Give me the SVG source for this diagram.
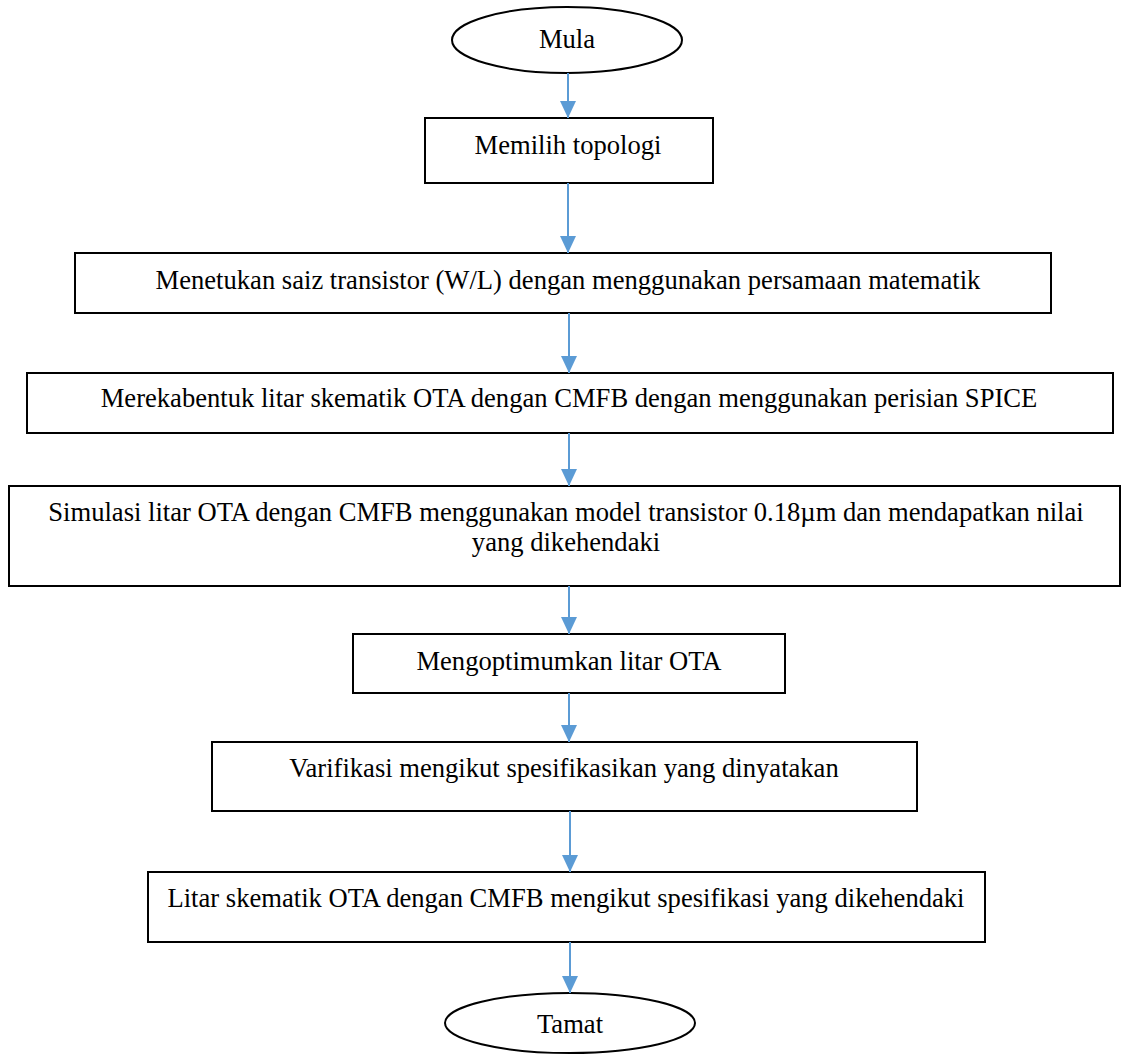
<svg xmlns="http://www.w3.org/2000/svg" width="1121" height="1059" viewBox="0 0 1121 1059">
<style>
.n{fill:#fff;stroke:#000;stroke-width:2}
.t{font-family:"Liberation Serif","Times New Roman",serif;font-size:26.6px;fill:#000;text-anchor:middle}
.c{stroke:#5B9BD5;stroke-width:2;fill:none}
</style>
<defs>
<marker id="ah" markerUnits="userSpaceOnUse" markerWidth="18" markerHeight="18" refX="17" refY="8" orient="auto">
<path d="M0,0 L17,8 L0,16 Z" fill="#5B9BD5"/>
</marker>
</defs>
<rect width="1121" height="1059" fill="#fff"/>
<g id="mula"><ellipse class="n" cx="567" cy="40" rx="115" ry="33"/><text class="t" x="567" y="48">Mula</text></g>
<g id="topologi"><rect class="n" x="425" y="118" width="288" height="65"/><text class="t" x="568" y="154">Memilih topologi</text></g>
<g id="saiz"><rect class="n" x="75" y="253" width="976" height="60"/><text class="t" x="568" y="289">Menetukan saiz transistor (W/L) dengan menggunakan persamaan matematik</text></g>
<g id="skematik"><rect class="n" x="27" y="373" width="1086" height="60"/><text class="t" x="569" y="407">Merekabentuk litar skematik OTA dengan CMFB dengan menggunakan perisian SPICE</text></g>
<g id="simulasi"><rect class="n" x="9" y="486" width="1111" height="100"/><text class="t" x="566" y="521">Simulasi litar OTA dengan CMFB menggunakan model transistor 0.18µm dan mendapatkan nilai</text><text class="t" x="566" y="551">yang dikehendaki</text></g>
<g id="optimum"><rect class="n" x="353" y="634" width="432" height="59"/><text class="t" x="569" y="670">Mengoptimumkan litar OTA</text></g>
<g id="verifikasi"><rect class="n" x="212" y="742" width="705" height="69"/><text class="t" x="564" y="777">Varifikasi mengikut spesifikasikan yang dinyatakan</text></g>
<g id="litar"><rect class="n" x="148" y="872" width="837" height="70"/><text class="t" x="566" y="907">Litar skematik OTA dengan CMFB mengikut spesifikasi yang dikehendaki</text></g>
<g id="tamat"><ellipse class="n" cx="570" cy="1023" rx="125" ry="30"/><text class="t" x="570" y="1033">Tamat</text></g>
<g id="connectors">
<path class="c" d="M568,73 L568,118" marker-end="url(#ah)"/>
<path class="c" d="M568,183 L568,253" marker-end="url(#ah)"/>
<path class="c" d="M569,313 L569,373" marker-end="url(#ah)"/>
<path class="c" d="M569,433 L569,486" marker-end="url(#ah)"/>
<path class="c" d="M569,586 L569,634" marker-end="url(#ah)"/>
<path class="c" d="M569,693 L569,742" marker-end="url(#ah)"/>
<path class="c" d="M570,811 L570,872" marker-end="url(#ah)"/>
<path class="c" d="M570,942 L570,993" marker-end="url(#ah)"/>
</g>
</svg>
